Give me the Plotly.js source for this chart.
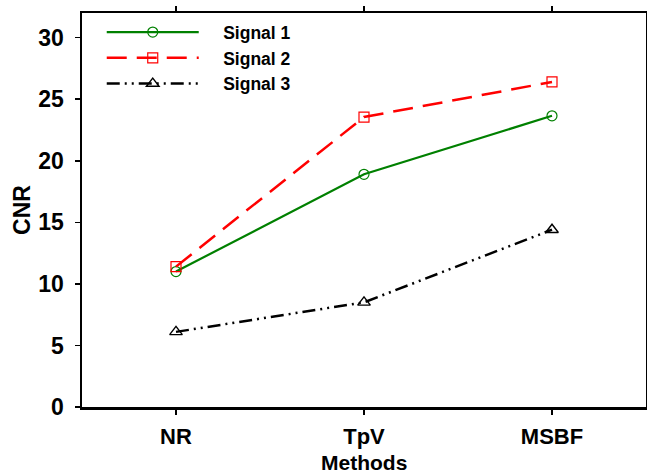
<!DOCTYPE html>
<html>
<head>
<meta charset="utf-8">
<script src="https://cdn.plot.ly/plotly-3.0.1.min.js"></script>
<style>html,body{margin:0;padding:0;background:#fff;}#chart{width:647px;height:476px;}</style>
</head>
<body>
<div id="chart"></div>
<script>
const methods = ["NR", "TpV", "MSBF"];
const signal1 = [11.0, 18.9, 23.65];
const signal2 = [11.4, 23.55, 26.4];
const signal3 = [6.1, 8.5, 14.4];
const yTicks = [0, 5, 10, 15, 20, 25, 30];
const seriesNames = ["Signal 1", "Signal 2", "Signal 3"];
const xTitle = "Methods";
const yTitle = "CNR";

const font = "Arial, 'Liberation Sans', sans-serif";
const pad = "\u00A0\u00A0\u00A0\u00A0";

const traces = [
  {x: methods, y: signal1, name: pad + seriesNames[0], type: "scatter", mode: "lines+markers",
   line: {color: "#008000", width: 2.2},
   marker: {symbol: "circle-open", size: 10, color: "#008000", line: {width: 1.2}}},
  {x: methods, y: signal2, name: pad + seriesNames[1], type: "scatter", mode: "lines+markers",
   line: {color: "#ff0000", width: 2.5, dash: "20px,10px"},
   marker: {symbol: "square-open", size: 10, color: "#ff0000", line: {width: 1.2}}},
  {x: methods, y: signal3, name: pad + seriesNames[2], type: "scatter", mode: "lines+markers",
   line: {color: "#000000", width: 2.5, dash: "13px,5px,2px,5px,2px,5px"},
   marker: {symbol: "triangle-up-open", size: 11, color: "#000000", line: {width: 1.4}}}
];

const layout = {
  width: 647, height: 476,
  margin: {l: 82, r: 1, t: 13, b: 69},
  paper_bgcolor: "#fff", plot_bgcolor: "#fff",
  showlegend: true,
  legend: {x: 0.035, y: 0.997, xanchor: "left", yanchor: "top",
           font: {family: font, size: 17.5, color: "#000", weight: "bold"},
           bgcolor: "rgba(0,0,0,0)", itemwidth: 92, tracegroupgap: 0},
  xaxis: {
    type: "category", range: [-0.5, 2.5],
    showline: true, linecolor: "#000", linewidth: 2.5, mirror: "ticks",
    ticks: "outside", ticklen: 5, tickcolor: "#000", tickwidth: 1.5,
    showgrid: false, zeroline: false,
    tickfont: {family: font, size: 22, color: "#000", weight: "bold"},
    ticklabelstandoff: 3
  },
  yaxis: {
    range: [0, 32], tickvals: yTicks,
    showline: true, linecolor: "#000", linewidth: 2.5, mirror: true,
    ticks: "outside", ticklen: 5, tickcolor: "#000", tickwidth: 1.5,
    showgrid: false, zeroline: false,
    tickfont: {family: font, size: 23, color: "#000", weight: "bold"},
    ticklabelstandoff: 6,
    title: {text: yTitle, font: {family: font, size: 23, color: "#000", weight: "bold"}, standoff: 2}
  },
  annotations: [
    {text: xTitle, xref: "paper", yref: "paper", x: 0.5, y: 0, xanchor: "center", yanchor: "middle",
     yshift: -55, showarrow: false,
     font: {family: font, size: 21, color: "#000", weight: "bold"}}
  ]
};

Plotly.newPlot("chart", traces, layout, {displayModeBar: false, staticPlot: true});
</script>
</body>
</html>
